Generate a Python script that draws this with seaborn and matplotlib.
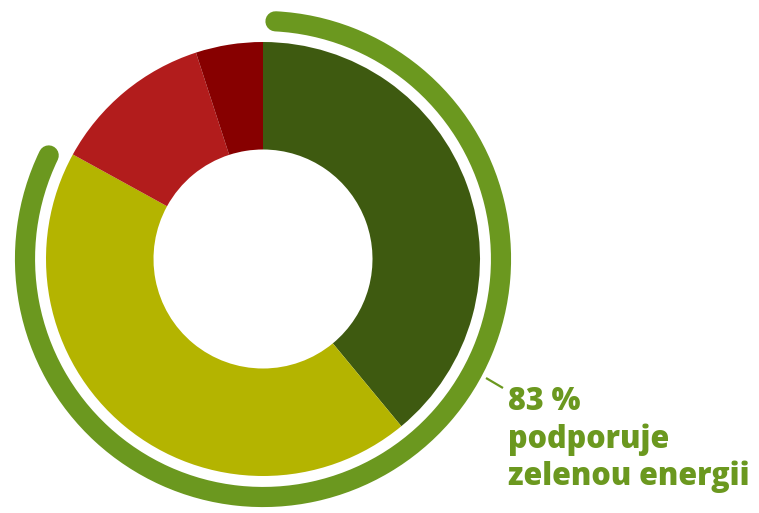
import numpy as np
import matplotlib
matplotlib.use("Agg")
import matplotlib.pyplot as plt
from matplotlib.patches import Arc
import seaborn as sns

# shares of the donut, clockwise from 12 o'clock
shares = [39, 44, 12, 5]
colors = ["#3e5a10", "#b4b400", "#b21c1c", "#870000"]
support_pct = 83
label_lines = ["83 %", "podporuje", "zelenou energii"]
accent = "#6b981f"

sns.set_theme(style="white")
plt.rcParams["font.family"] = ["Open Sans", "DejaVu Sans"]

W, H = 759, 513
fig = plt.figure(figsize=(W / 100, H / 100), dpi=100)
ax = fig.add_axes([0, 0, 1, 1])

cx, cy = 263, H - 259
r_out, r_in = 217, 109.5

ax.pie(shares, colors=colors, startangle=90, counterclock=False,
       center=(cx, cy), radius=r_out,
       wedgeprops=dict(width=r_out - r_in, linewidth=0))

# outer arc showing the supporting share (clock angles, minus round caps)
start = 3
end = start + support_pct / 100 * 360 - 6
arc = Arc((cx, cy), 2 * 238, 2 * 238, theta1=90 - end, theta2=90 - start,
          color=accent, lw=14.5)
arc.set_capstyle("round")
ax.add_patch(arc)

# connector to the label
ax.plot([486, 503], [H - 378, H - 388], color=accent, lw=1.6,
        solid_capstyle="butt")

baselines = [410, 448, 485]
for txt, b in zip(label_lines, baselines):
    ax.text(508, H - b, txt, color=accent, fontsize=22, fontweight="heavy",
            ha="left", va="baseline")

ax.set_xlim(0, W)
ax.set_ylim(0, H)
ax.set_aspect("equal")
ax.axis("off")

fig.savefig("out.png", dpi=100, facecolor="white")
